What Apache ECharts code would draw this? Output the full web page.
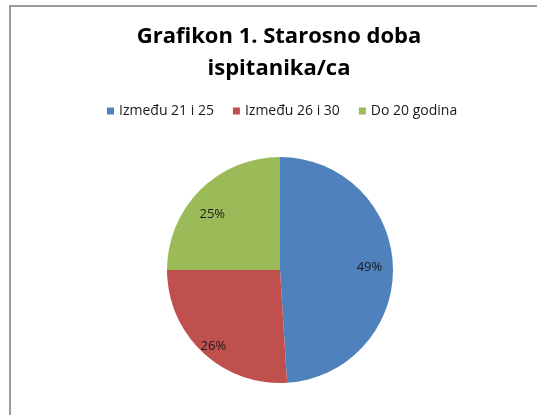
<!DOCTYPE html>
<html>
<head>
<meta charset="utf-8">
<script src="https://cdn.jsdelivr.net/npm/echarts@6/dist/echarts.min.js"></script>
<style>
  html, body { margin: 0; padding: 0; background: #fff; overflow: hidden; }
  #frame { position: absolute; left: 9px; top: 5px; width: 600px; height: 500px;
           border: 2px solid #9a9a9a; box-sizing: border-box; }
  #chart { position: absolute; left: 0; top: 0; width: 537px; height: 415px; }
</style>
</head>
<body>
<div id="frame"></div>
<div id="chart"></div>
<script>
  // podaci
  var categories = ['Između 21 i 25', 'Između 26 i 30', 'Do 20 godina'];
  var values = [49, 26, 25];
  var colors = ['#4F81BD', '#C0504D', '#9BBB59'];

  var pieData = categories.map(function (name, i) {
    return {name: name, value: values[i], itemStyle: {color: colors[i]}};
  });

  // malo pomjeranje oznaka kao u Excelu
  var labelShift = [[-2, 0], [-4, 10], [-3, 9]];

  var option = {
    backgroundColor: 'transparent',
    animation: false,
    title: {
      text: 'Grafikon 1. Starosno doba\nispitanika/ca',
      left: 274,
      top: 16,
      textAlign: 'center',
      textStyle: {
        fontFamily: 'Open Sans',
        fontSize: 22,
        fontWeight: 'bold',
        color: '#000',
        lineHeight: 32
      }
    },
    legend: {
      data: categories,
      top: 99,
      left: 102,
      icon: 'rect',
      itemWidth: 7,
      itemHeight: 7,
      itemGap: 19,
      textStyle: {fontFamily: 'Open Sans', fontSize: 14, color: '#1a1a1a'}
    },
    series: [
      {
        type: 'pie',
        center: [280, 270],
        radius: [0, 113],
        startAngle: 90,
        clockwise: true,
        silent: true,
        label: {show: false},
        labelLine: {show: false},
        data: pieData
      },
      {
        // samo oznake, postavljene na ~0.8 poluprečnika
        type: 'pie',
        center: [280, 270],
        radius: [64, 113],
        startAngle: 90,
        clockwise: true,
        silent: true,
        itemStyle: {color: 'transparent'},
        label: {
          show: true,
          position: 'inside',
          formatter: '{d}%',
          fontFamily: 'Open Sans',
          fontSize: 13,
          color: '#1a1a1a'
        },
        labelLine: {show: false},
        data: categories.map(function (name, i) {
          return {name: name, value: values[i], label: {offset: labelShift[i]}};
        })
      }
    ]
  };

  echarts.init(document.getElementById('chart')).setOption(option);
</script>
</body>
</html>
